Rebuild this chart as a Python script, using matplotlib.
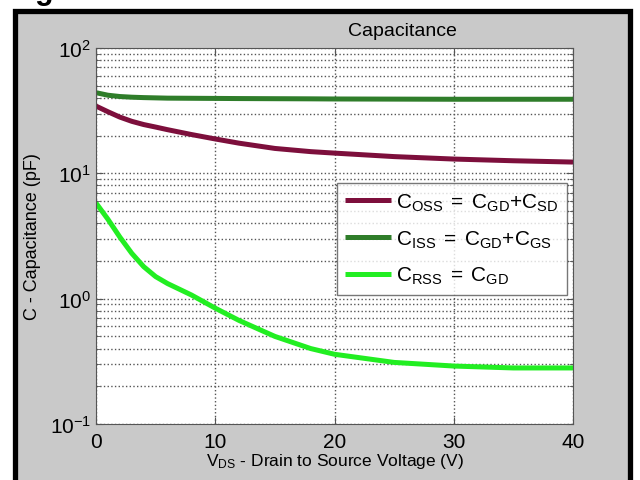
import numpy as np
import matplotlib
matplotlib.use('Agg')
import matplotlib.pyplot as plt
from matplotlib.patches import Rectangle

plt.rcParams['font.family'] = ['Liberation Sans', 'DejaVu Sans']
plt.rcParams['mathtext.fontset'] = 'custom'
plt.rcParams['mathtext.rm'] = 'Liberation Sans'
plt.rcParams['mathtext.it'] = 'Liberation Sans'
plt.rcParams['mathtext.bf'] = 'Liberation Sans:bold'

# data (V, pF)
vds = [0, 1, 2, 3, 4, 5, 6, 8, 10, 12, 15, 18, 20, 25, 30, 35, 40]
c_oss = [34.4, 31, 28.1, 26, 24.5, 23.4, 22.3, 20.4, 18.8, 17.4, 15.8, 14.9, 14.5, 13.6, 13.0, 12.6, 12.3]
c_iss = [44, 42, 41, 40.5, 40.2, 40, 39.8, 39.7, 39.6, 39.5, 39.4, 39.3, 39.2, 39.1, 39.0, 39.0, 39.0]
c_rss = [5.8, 4.3, 3.1, 2.3, 1.8, 1.5, 1.32, 1.07, 0.84, 0.67, 0.5, 0.4, 0.36, 0.31, 0.29, 0.28, 0.28]

labels = [r'$\mathregular{C_{OSS}\;=\;C_{GD}{+}C_{SD}}$',
          r'$\mathregular{C_{ISS}\;=\;C_{GD}{+}C_{GS}}$',
          r'$\mathregular{C_{RSS}\;=\;C_{GD}}$']
colors = ['#7d0f3c', '#2f7d2a', '#22ee22']

fig = plt.figure(figsize=(6.4, 4.81), dpi=100)
fig.patch.set_facecolor('white')
W, H = 640.0, 481.0

# grey panel with thick black frame (screenshot look)
frame = Rectangle((14.5 / W, -20 / H), (629.5 - 14.5) / W, (481 - 11.5 + 20) / H,
                  transform=fig.transFigure, facecolor='#c9c9c9', edgecolor='black',
                  linewidth=3.8, zorder=0)
fig.patches.append(frame)
# caption of the original page, cut off at the top edge
fig.text(8 / W, 1 + 1 / H, 'Figure 6', fontsize=22, fontweight='bold', va='baseline', ha='left')

ax = fig.add_axes([96 / W, (481 - 425) / H, (573 - 96) / W, (425 - 49) / H])
ax.set_zorder(2)
ax.set_facecolor('white')

for y, lab, col in zip([c_oss, c_iss, c_rss], labels, colors):
    ax.plot(vds, y, color=col, linewidth=3.6, label=lab, solid_capstyle='butt')

ax.set_yscale('log')
ax.set_xlim(0, 40)
ax.set_ylim(0.1, 100)
ax.set_xticks([0, 10, 20, 30, 40])
ax.grid(True, which='major', linestyle=':', color='#555555', linewidth=1.0)
ax.grid(True, which='minor', axis='y', linestyle=':', color='#555555', linewidth=1.0)
ax.tick_params(which='both', direction='in', top=True, right=True, labelsize=15, colors='#555555',
               labelcolor='black')
ax.tick_params(which='major', length=5)
ax.tick_params(which='minor', length=3)
ax.tick_params(axis='x', pad=6)
for s in ax.spines.values():
    s.set_color('#555555')

ax.set_xlabel(r'$\mathregular{V_{DS}}$ - Drain to Source Voltage (V)', fontsize=12.5, labelpad=0)
ax.set_ylabel('C - Capacitance (pF)', fontsize=13, labelpad=6)
fig.text(402 / W, 1 - 32 / H, 'Capacitance', fontsize=14, ha='center', va='center')

leg = ax.legend(loc='upper left', bbox_to_anchor=((337 - 96) / (573 - 96), 1 - (184 - 49) / (425 - 49)),
                fontsize=15, frameon=True, fancybox=False, handlelength=2.2, handletextpad=0.25,
                borderpad=0.4, labelspacing=0.75, borderaxespad=0)
leg.get_frame().set_edgecolor('#555555')
leg.get_frame().set_linewidth(1.0)

fig.savefig('out.png', dpi=100)
